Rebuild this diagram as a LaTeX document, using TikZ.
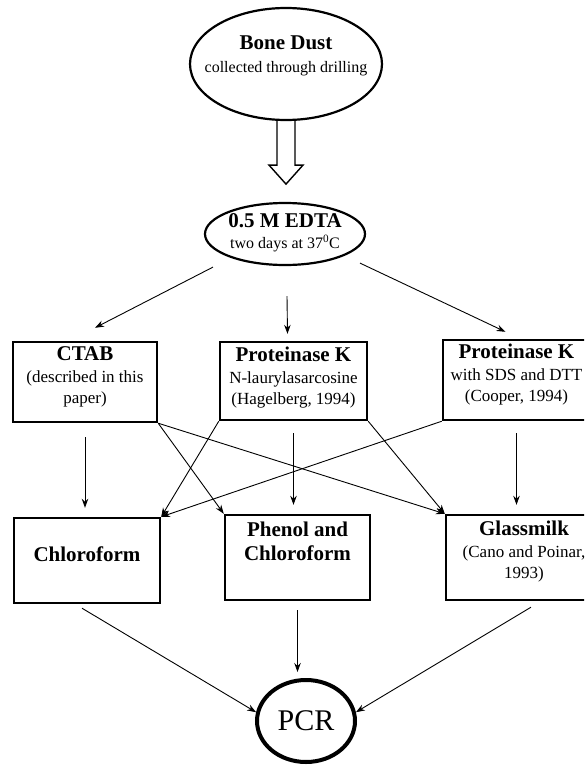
\documentclass[tikz,border=0pt]{standalone}
\usepackage{fontspec}
\setmainfont{Liberation Serif}
\usetikzlibrary{
  arrows.meta,
  positioning,
  shapes.geometric,
}
\newcommand{\headline}[1]{{\fontsize{21}{24}\selectfont\bfseries #1}}

\tikzset{
  stagebox/.style={draw, line width=2.4pt, inner sep=0pt},
  stagetext/.style={align=center, inner sep=0pt, font=\fontsize{17}{19}\selectfont},
  oval/.style={draw, ellipse, line width=2.2pt, inner sep=0pt},
  flow/.style={-{Stealth[length=9pt, width=6.5pt]}, line width=0.9pt},
}

\begin{document}
\begin{tikzpicture}[x=1pt, y=-1pt]
  \useasboundingbox (0,0) rectangle (584,766);
  \clip (0,0) rectangle (584,766);
  % sample and decalcification
  \node[oval, minimum width=192pt, minimum height=112pt] (bone) at (286,64) {};
  \node[stagetext, font=\fontsize{16}{18}\selectfont] (bonetext) at ([yshift=8pt]bone.center)
    {\headline{Bone Dust}\\[5pt]collected through drilling};
  \node[oval, minimum width=160pt, minimum height=62pt] (edta) at (285,234) {};
  \node[stagetext, font=\fontsize{16}{18}\selectfont] (edtatext) at ([yshift=1pt]edta.center)
    {\headline{0.5 M EDTA}\\[3pt]two days at 37\textsuperscript{0}C};
  % hollow arrow
  \draw[line width=1.4pt] ([xshift=-9pt]bone.south) -- ++(0,44) -- ++(-8,0)
    -- ++(17,19) -- ++(17,-19) -- ++(-8,0) -- ++(0,-44);
  % digestion
  \node[stagebox, minimum width=144pt, minimum height=80pt] (ctab) at (85,382) {};
  \node[stagebox, minimum width=147pt, minimum height=78pt] (protsar) at (293.5,381) {};
  \node[stagebox, minimum width=147pt, minimum height=80pt] (protsds) at (516.5,380) {};
  \node[stagetext, below=6pt of ctab.north] (ctabtext)
    {\headline{CTAB}\\[3pt](described in this\\[2pt]paper)};
  \node[stagetext, below=6pt of protsar.north] (protsartext)
    {\headline{Proteinase K}\\[3pt]N-laurylasarcosine\\[2pt](Hagelberg, 1994)};
  \node[stagetext, below=5pt of protsds.north] (protsdstext)
    {\headline{Proteinase K}\\[3pt]with SDS and DTT\\[2pt](Cooper, 1994)};
  % purification
  \node[stagebox, minimum width=146pt, minimum height=85pt] (chloro) at (87,560.5) {};
  \node[stagebox, minimum width=145pt, minimum height=85pt] (phenol) at (297.5,557.5) {};
  \node[stagebox, minimum width=146pt, minimum height=85pt] (glass) at (519,557.5) {};
  \node[stagetext] (chlorotext) at ([yshift=6pt]chloro.center) {\headline{Chloroform}};
  \node[stagetext, below=8pt of phenol.north] (phenoltext)
    {\headline{Phenol and}\\[5pt]\headline{Chloroform}};
  \node[stagetext, below=7pt of glass.north, xshift=5pt] (glasstext)
    {\headline{Glassmilk}\\[3pt](Cano and Poinar,\\[2pt]1993)};
  % amplification
  \node[draw, ellipse, line width=4pt, inner sep=0pt, minimum width=98pt,
    minimum height=82pt, font=\fontsize{30}{32}\selectfont] (pcr) at (306,721) {PCR};
  % arrows
  \draw[flow] ([shift={(-72,1)}]edta.south) -- ([shift={(10,-13)}]ctab.north);
  \draw[flow] ([shift={(2,30)}]edta.south) -- ([shift={(-6,-7)}]protsar.north);
  \draw[flow] ([shift={(75,-3)}]edta.south) -- ([shift={(-11,-7)}]protsds.north);
  \draw[flow, shorten <=14pt, shorten >=9pt] (ctab.south) -- (ctab.south |- chloro.north);
  \draw[flow, shorten <=12pt, shorten >=9pt] (protsar.south) -- (protsar.south |- phenol.north);
  \draw[flow, shorten <=12pt, shorten >=9pt] (protsds.south) -- (protsds.south |- glass.north);
  \draw[flow] (ctab.south east) -- (phenol.north west);
  \draw[flow] (ctab.south east) -- (glass.north west);
  \draw[flow] (protsar.south west) -- (chloro.north east);
  \draw[flow] (protsar.south east) -- (glass.north west);
  \draw[flow] (protsds.south west) -- (chloro.north east);
  \draw[flow] ([shift={(-5,4)}]chloro.south) -- (pcr.170);
  \draw[flow, shorten <=9pt, shorten >=6pt] (phenol.south) -- (phenol.south |- pcr.north);
  \draw[flow] ([shift={(12,6)}]glass.south) -- (pcr.10);
\end{tikzpicture}
\end{document}
